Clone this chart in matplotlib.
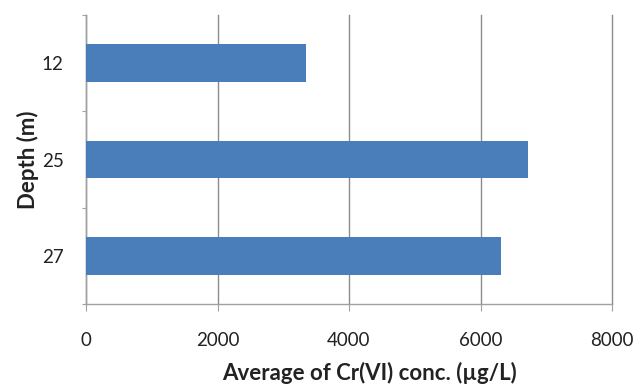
import matplotlib
matplotlib.use("Agg")
import matplotlib.pyplot as plt
import numpy as np

depths = ["12", "25", "27"]
values = [3346, 6722, 6312]
xticks = [0, 2000, 4000, 6000, 8000]

plt.rcParams['font.family'] = ['Lato', 'DejaVu Sans']

fig = plt.figure(figsize=(6.38, 3.87), dpi=100)
ax = fig.add_axes([86/638, 1-304.3/387, (612-86)/638, (304.3-15)/387])

pos = np.arange(len(depths))
ax.barh(pos, values, height=0.39, color='#4A7EBB', zorder=3)
ax.set_xlim(0, 8000)
ax.set_ylim(len(depths)-0.5, -0.5)

ax.set_xticks(xticks)
ax.set_xticklabels([str(t) for t in xticks], fontsize=13.5, color='#222222')
ax.xaxis.grid(True, color='#8C8C8C', linewidth=1.0, zorder=0)
for gl in ax.get_xgridlines():
    gl.set_clip_on(False)
ax.tick_params(axis='x', length=5, color='#A0A0A0', pad=15)

ax.set_yticks(np.arange(-0.5, len(depths), 1.0))
ax.set_yticklabels([])
ax.set_yticks(pos, minor=True)
ax.set_yticklabels(depths, minor=True, fontsize=13.5, color='#222222')
ax.tick_params(axis='y', which='major', length=3, color='#A0A0A0')
ax.tick_params(axis='y', which='minor', length=0, pad=16)

for s in ['top', 'right']:
    ax.spines[s].set_visible(False)
for s in ['left', 'bottom']:
    ax.spines[s].set_color('#A0A0A0')
    ax.spines[s].set_linewidth(1.0)

ax.set_xlabel("Average of Cr(VI) conc. (µg/L)", fontsize=16, fontweight='bold', color='#222222')
ax.xaxis.set_label_coords(0.539, -0.2)
ax.set_ylabel("Depth (m)", fontsize=16, fontweight='bold', color='#222222')
ax.yaxis.set_label_coords(-0.09, 0.5)

fig.savefig("out.png", dpi=100)
